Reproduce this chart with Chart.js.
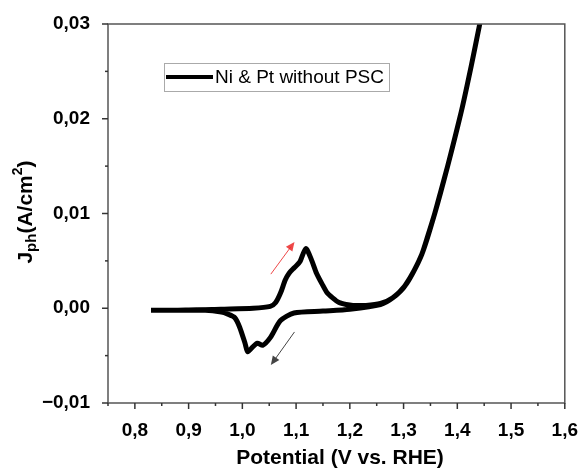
<!DOCTYPE html>
<html>
<head>
<meta charset="utf-8">
<script src="https://cdn.jsdelivr.net/npm/chart.js@4"></script>
<style>
  html, body { margin: 0; padding: 0; background: #fff; }
  #wrap { width: 586px; height: 470px; position: relative; }
</style>
</head>
<body>
<div id="wrap"><canvas id="myChart"></canvas></div>
<script>
// CV scan: forward (anodic) then back (cathodic)
var potential = [0.83, 0.90, 0.96, 1.02, 1.052, 1.062, 1.071, 1.08, 1.087, 1.097, 1.107, 1.118, 1.128, 1.138, 1.148, 1.157, 1.168, 1.180, 1.193, 1.206, 1.23, 1.257, 1.28, 1.303, 1.318, 1.334, 1.346, 1.358, 1.37, 1.382, 1.395, 1.408, 1.417, 1.426, 1.434, 1.441, 1.455,
                 1.441, 1.426, 1.408, 1.382, 1.358, 1.334, 1.303, 1.28, 1.257, 1.20, 1.15, 1.096, 1.071, 1.052, 1.038, 1.028, 1.019, 1.010, 1.005, 0.995, 0.986, 0.972, 0.961, 0.931, 0.88, 0.83];
var current = [-0.0002, -0.0002, -0.0001, 0.0000, 0.0002, 0.0006, 0.0016, 0.0030, 0.0037, 0.0043, 0.0049, 0.0063, 0.0052, 0.0037, 0.0026, 0.0017, 0.0011, 0.0006, 0.0004, 0.0003, 0.0003, 0.0005, 0.0011, 0.0024, 0.0038, 0.0057, 0.0078, 0.0100, 0.0125, 0.0150, 0.0179, 0.0209, 0.0232, 0.0256, 0.0278, 0.0298, 0.0338,
               0.0298, 0.0256, 0.0209, 0.0150, 0.0100, 0.0057, 0.0024, 0.0011, 0.0004, -0.0001, -0.0003, -0.0005, -0.0013, -0.0031, -0.0039, -0.0037, -0.0041, -0.0046, -0.0037, -0.0020, -0.0010, -0.0006, -0.0004, -0.0002, -0.0002, -0.0002];
var xTicks = [0.8, 0.9, 1.0, 1.1, 1.2, 1.3, 1.4, 1.5, 1.6];
var yTicks = [-0.01, 0.00, 0.01, 0.02, 0.03];
var seriesName = 'Ni & Pt without PSC';
// scan direction arrows [x0, y0, x1, y1]
var arrowUp = [1.053, 0.0036, 1.097, 0.0070];
var arrowDown = [1.097, -0.0025, 1.053, -0.0060];

var FONT = '"Liberation Sans", Arial, sans-serif';
var points = potential.map(function (v, i) { return { x: v, y: current[i] }; });

function comma(v, d) { return v.toFixed(d).replace('.', ','); }

function drawArrow(c, x0, y0, x1, y1, color) {
  var ang = Math.atan2(y1 - y0, x1 - x0);
  c.strokeStyle = color; c.fillStyle = color; c.lineWidth = 1;
  c.beginPath(); c.moveTo(x0, y0); c.lineTo(x1 - 6 * Math.cos(ang), y1 - 6 * Math.sin(ang)); c.stroke();
  c.beginPath();
  c.moveTo(x1, y1);
  c.lineTo(x1 - 9 * Math.cos(ang) + 4 * Math.sin(ang), y1 - 9 * Math.sin(ang) - 4 * Math.cos(ang));
  c.lineTo(x1 - 9 * Math.cos(ang) - 4 * Math.sin(ang), y1 - 9 * Math.sin(ang) + 4 * Math.cos(ang));
  c.closePath(); c.fill();
}

var frame = {
  id: 'frame',
  afterDraw: function (chart) {
    var c = chart.ctx, a = chart.chartArea, xs = chart.scales.x, ys = chart.scales.y;
    c.save();
    // box
    c.strokeStyle = '#555'; c.lineWidth = 1.5;
    c.strokeRect(a.left, a.top, a.right - a.left, a.bottom - a.top);
    // ticks
    c.strokeStyle = '#333'; c.lineWidth = 1.5;
    for (var v = 0.75; v <= 1.6001; v += 0.05) {
      var px = xs.getPixelForValue(v);
      var major = Math.abs(Math.round(v * 10) - v * 10) < 0.01;
      c.beginPath(); c.moveTo(px, a.bottom); c.lineTo(px, a.bottom + (major ? 6 : 3)); c.stroke();
    }
    for (var w = -0.01; w <= 0.0301; w += 0.005) {
      var py = ys.getPixelForValue(w);
      var maj = Math.abs(Math.round(w * 100) - w * 100) < 0.01;
      c.beginPath(); c.moveTo(a.left, py); c.lineTo(a.left - (maj ? 6 : 3), py); c.stroke();
    }
    // arrows
    drawArrow(c, xs.getPixelForValue(arrowUp[0]), ys.getPixelForValue(arrowUp[1]),
      xs.getPixelForValue(arrowUp[2]), ys.getPixelForValue(arrowUp[3]), 'rgba(235,40,40,0.85)');
    drawArrow(c, xs.getPixelForValue(arrowDown[0]), ys.getPixelForValue(arrowDown[1]),
      xs.getPixelForValue(arrowDown[2]), ys.getPixelForValue(arrowDown[3]), '#444');
    // legend
    c.fillStyle = '#fff'; c.fillRect(164, 63, 225, 28);
    c.strokeStyle = '#aaa'; c.lineWidth = 1; c.strokeRect(164.5, 63.5, 225, 28);
    c.strokeStyle = '#000'; c.lineWidth = 4;
    c.beginPath(); c.moveTo(166, 77); c.lineTo(213, 77); c.stroke();
    c.fillStyle = '#000'; c.font = '19px ' + FONT; c.textBaseline = 'middle';
    c.fillText(seriesName, 215, 78);
    // x title
    c.font = 'bold 21px ' + FONT; c.textAlign = 'center';
    c.fillText('Potential (V vs. RHE)', 340, 458);
    // y title with subscript and superscript
    c.translate(26, 212);
    c.rotate(-Math.PI / 2);
    var parts = [['J', 21, 0], ['ph', 15, 6], ['(A/cm', 21, 0], ['2', 14, -8], [')', 21, 0]];
    var total = 0;
    parts.forEach(function (p) { c.font = 'bold ' + p[1] + 'px ' + FONT; total += c.measureText(p[0]).width; });
    var xx = -total / 2;
    c.textAlign = 'left';
    parts.forEach(function (p) {
      c.font = 'bold ' + p[1] + 'px ' + FONT;
      c.fillText(p[0], xx, p[2]);
      xx += c.measureText(p[0]).width;
    });
    c.restore();
  }
};

var ctx = document.getElementById('myChart');
var myChart = new Chart(ctx, {
  type: 'scatter',
  data: {
    datasets: [{
      label: seriesName,
      data: points,
      showLine: true,
      borderColor: '#000',
      borderWidth: 5,
      pointRadius: 0,
      tension: 0.25,
      clip: 0
    }]
  },
  options: {
    responsive: true,
    maintainAspectRatio: false,
    animation: false,
    layout: { padding: { left: 0, top: 24, right: 14, bottom: 0 } },
    plugins: { legend: { display: false }, tooltip: { enabled: false } },
    scales: {
      x: {
        type: 'linear', min: 0.75, max: 1.6,
        afterBuildTicks: function (s) { s.ticks = xTicks.map(function (v) { return { value: v }; }); },
        afterFit: function (s) { s.height = 67; },
        grid: { display: false },
        border: { display: false },
        ticks: { color: '#000', padding: 8, font: { family: FONT, size: 19, weight: 'bold' },
          callback: function (v) { return comma(v, 1); } }
      },
      y: {
        type: 'linear', min: -0.01, max: 0.03,
        afterBuildTicks: function (s) { s.ticks = yTicks.map(function (v) { return { value: v }; }); },
        afterFit: function (s) { s.width = 108; },
        grid: { display: false },
        border: { display: false },
        ticks: { color: '#000', padding: 10, font: { family: FONT, size: 19, weight: 'bold' },
          callback: function (v) { return v < 0 ? '\u2212' + comma(-v, 2) : comma(v, 2); } }
      }
    }
  },
  plugins: [frame]
});
</script>
</body>
</html>
